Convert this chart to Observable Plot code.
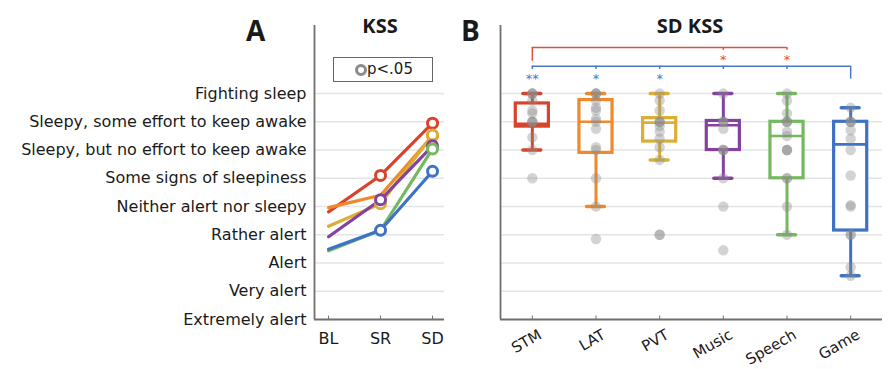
<!DOCTYPE html>
<html>
<head>
<meta charset="utf-8">
<script src="https://cdn.jsdelivr.net/npm/d3@7"></script>
<script src="https://cdn.jsdelivr.net/npm/@observablehq/plot@0.6"></script>
<style>
  html, body { margin: 0; padding: 0; background: #fff; }
  #wrap { position: relative; width: 888px; height: 369px; overflow: hidden; font-family: "DejaVu Sans", sans-serif; color: #1a1a1a; }
  .abs { position: absolute; }
  .letter { font-family: "Open Sans", sans-serif; font-weight: 700; font-size: 28px; line-height: 1; }
  .title { font-family: "Open Sans", sans-serif; font-weight: 700; font-size: 20px; line-height: 1; transform: translateX(-50%); white-space: nowrap; }
  #legend { left: 333px; top: 57px; width: 98px; height: 23px; border: 1.6px solid #666; }
  #legend .ring { position: absolute; left: 21px; top: 6px; width: 6px; height: 6px; border: 3px solid #8a8a8a; border-radius: 50%; }
  #legend .lab { position: absolute; left: 33px; top: 1px; font-size: 15px; line-height: 20px; }
</style>
</head>
<body>
<div id="wrap">
  <div id="panelA" class="abs" style="left:0;top:0"></div>
  <div id="panelB" class="abs" style="left:450px;top:0"></div>
  <div class="abs letter" style="left:246px;top:16px">A</div>
  <div class="abs title" style="left:380px;top:16px">KSS</div>
  <div class="abs letter" style="left:461px;top:16px">B</div>
  <div class="abs title" style="left:690px;top:16px">SD KSS</div>
  <div id="legend" class="abs"><span class="ring"></span><span class="lab">p&lt;.05</span></div>
</div>
<script>
// ---------- data ----------
const levels = ["Extremely alert", "Very alert", "Alert", "Rather alert", "Neither alert nor sleepy",
  "Some signs of sleepiness", "Sleepy, but no effort to keep awake", "Sleepy, some effort to keep awake", "Fighting sleep"];
const sessions = ["BL", "SR", "SD"];
const tasks = ["STM", "LAT", "PVT", "Music", "Speech", "Game"];
const colors = ["#d9432b", "#ef892b", "#dcae34", "#8442a0", "#74b95e", "#3f72c6"];

// Panel A: mean KSS per task and session
const kssBL = [4.81, 4.96, 4.30, 3.93, 3.43, 3.49];
const kssSR = [6.10, 5.40, 5.10, 5.24, 4.16, 4.16];
const kssSD = [7.95, 7.50, 7.53, 7.15, 7.04, 6.25];
const sigSR = [true, false, true, true, false, true];
const sigSD = [true, true, true, true, true, true];

// Panel B: box statistics of SD KSS per task
const whiskLo = [7.0, 5.0, 6.65, 6.0, 4.0, 2.55];
const q1 = [7.83, 6.9, 7.3, 7.0, 6.0, 4.15];
const median = [7.93, 8.0, 7.97, 7.88, 7.5, 7.2];
const q3 = [8.65, 8.77, 8.13, 8.03, 8.0, 8.0];
const whiskHi = [9.0, 9.0, 9.0, 9.0, 9.0, 8.5];
// individual SD KSS scores
const ptsSTM = [9, 9, 9, 8.75, 8.4, 8.3, 8, 8, 8, 7.45, 7, 6];
const ptsLAT = [9, 9, 9, 8.75, 8.5, 8.4, 8.1, 8, 7.75, 7.1, 7, 6, 5, 3.85];
const ptsPVT = [9, 8.75, 8.4, 8, 8, 8, 7.85, 7.65, 7.4, 7.1, 6.65, 4, 4];
const ptsMusic = [9, 8, 8, 8, 7.75, 7, 7, 7, 6, 5, 3.45];
const ptsSpeech = [9, 8.75, 8.3, 8, 8, 8, 7.65, 7.5, 7, 7, 7, 6, 6, 5, 4];
const ptsGame = [8.5, 8, 8, 8, 7.7, 7.4, 7, 6.1, 5.05, 5, 4, 4, 2.85, 2.55];

// significance brackets
const redFrom = "STM", redTo = ["Music", "Speech"], redStars = ["*", "*"];
const blueFrom = "Game", blueTo = ["STM", "LAT", "PVT", "Music", "Speech"], blueStars = ["**", "*", "*", "", ""];

// ---------- tables ----------
const kssBySession = [kssBL, kssSR, kssSD];
const sigBySession = [null, sigSR, sigSD];
const lineRows = [];
tasks.forEach((t, ti) => sessions.forEach((s, si) => lineRows.push({task: t, s: si, k: kssBySession[si][ti]})));
const ringRows = [];
tasks.forEach((t, ti) => [1, 2].forEach(si => { if (sigBySession[si][ti]) ringRows.push({task: t, s: si, k: kssBySession[si][ti]}); }));

const boxRows = tasks.map((t, i) => ({task: t, i, lo: whiskLo[i], q1: q1[i], med: median[i], q3: q3[i], hi: whiskHi[i]}));
const ptsAll = [ptsSTM, ptsLAT, ptsPVT, ptsMusic, ptsSpeech, ptsGame];
const pointRows = [];
ptsAll.forEach((arr, i) => arr.forEach(k => pointRows.push({i, k})));

const color = {domain: tasks, range: colors};
const grid = d3.range(2, 10);
const axisGrey = "#6f6f6f";
const gridGrey = "#e4e4e4";
const yTop = 11.41;
const baseStyle = {fontFamily: "DejaVu Sans", fontSize: "16px", color: "#1a1a1a", background: "transparent", overflow: "visible"};

// ---------- Panel A ----------
const A = Plot.plot({
  width: 450, height: 369,
  marginLeft: 314, marginRight: 6, marginTop: 25, marginBottom: 50,
  style: baseStyle,
  x: {domain: [-0.27, 2.23], label: null, axis: null},
  y: {domain: [1, yTop], label: null, axis: null},
  color,
  marks: [
    Plot.ruleY(grid, {stroke: gridGrey, strokeWidth: 1.5}),
    Plot.ruleY([1], {stroke: axisGrey, strokeWidth: 1.8}),
    Plot.ruleX([-0.27], {y1: 1, y2: yTop, stroke: axisGrey, strokeWidth: 1.8}),
    Plot.ruleX([0, 1, 2], {y1: 1, y2: 1.12, stroke: axisGrey, strokeWidth: 1}),
    Plot.axisY({ticks: d3.range(1, 10), tickFormat: d => levels[d - 1], tickSize: 0, tickPadding: 8, fontSize: 16, label: null}),
    Plot.axisX({ticks: [0, 1, 2], tickFormat: d => sessions[d], tickSize: 0, tickPadding: 13, fontSize: 16, label: null}),
    Plot.line(lineRows, {x: "s", y: "k", z: "task", stroke: "task", strokeWidth: 3.2}),
    Plot.dot(ringRows, {x: "s", y: "k", stroke: "task", fill: "white", r: 5, strokeWidth: 3})
  ]
});
document.getElementById("panelA").appendChild(A);

// ---------- Panel B ----------
const hw = 0.26, cw = 0.14;
const idx = t => tasks.indexOf(t);
const redRows = redTo.map((t, j) => ({i: idx(t), star: redStars[j]}));
const blueRows = blueTo.map((t, j) => ({i: idx(t), star: blueStars[j]}));
const red = "#e0503c", blue = "#4a78c8";
const yRed = 10.63, yBlue = 9.97;

const B = Plot.plot({
  width: 438, height: 369,
  marginLeft: 50, marginRight: 6, marginTop: 25, marginBottom: 50,
  style: baseStyle,
  x: {domain: [-0.5, 5.5], label: null, axis: null},
  y: {domain: [1, yTop], label: null, axis: null},
  color,
  marks: [
    Plot.ruleY(grid, {stroke: gridGrey, strokeWidth: 1.5}),
    Plot.ruleY([1], {stroke: axisGrey, strokeWidth: 1.8}),
    Plot.ruleX([-0.5], {y1: 1, y2: yTop, stroke: axisGrey, strokeWidth: 1.8}),
    Plot.ruleX(d3.range(tasks.length), {y1: 1, y2: 1.12, stroke: axisGrey, strokeWidth: 1}),
    Plot.axisX({ticks: d3.range(tasks.length), tickFormat: d => tasks[d], tickSize: 0, tickPadding: 14, tickRotate: -30, dx: 8, fontSize: 15, label: null}),
    // whiskers
    Plot.ruleX(boxRows, {x: "i", y1: "q3", y2: "hi", stroke: "task", strokeWidth: 3}),
    Plot.ruleX(boxRows, {x: "i", y1: "lo", y2: "q1", stroke: "task", strokeWidth: 3}),
    Plot.ruleY(boxRows, {y: "hi", x1: d => d.i - cw, x2: d => d.i + cw, stroke: "task", strokeWidth: 3.5, strokeLinecap: "round"}),
    Plot.ruleY(boxRows, {y: "lo", x1: d => d.i - cw, x2: d => d.i + cw, stroke: "task", strokeWidth: 3.5, strokeLinecap: "round"}),
    // boxes
    Plot.rect(boxRows, {x1: d => d.i - hw, x2: d => d.i + hw, y1: "q1", y2: "q3", stroke: "task", fill: "white", strokeWidth: 3.2}),
    Plot.ruleY(boxRows, {y: "med", x1: d => d.i - hw, x2: d => d.i + hw, stroke: "task", strokeWidth: 2.6}),
    // individual points
    Plot.dot(pointRows, {x: "i", y: "k", r: 5.2, fill: "#8c8c8c", fillOpacity: 0.38}),
    // red bracket
    Plot.ruleY([yRed], {x1: idx(redFrom), x2: d3.max(redRows, d => d.i), stroke: red, strokeWidth: 1.5}),
    Plot.ruleX([idx(redFrom)], {y1: yRed, y2: 10.14, stroke: red, strokeWidth: 1.5}),
    Plot.ruleX(redRows, {x: "i", y1: yRed, y2: 10.53, stroke: red, strokeWidth: 1.5}),
    Plot.text(redRows, {x: "i", y: 10.30, text: "star", fill: red, fontSize: 13, dy: 3}),
    // blue bracket
    Plot.ruleY([yBlue], {x1: d3.min(blueRows, d => d.i), x2: idx(blueFrom), stroke: blue, strokeWidth: 1.5}),
    Plot.ruleX([idx(blueFrom)], {y1: yBlue, y2: 9.51, stroke: blue, strokeWidth: 1.5}),
    Plot.ruleX(blueRows, {x: "i", y1: yBlue, y2: 9.85, stroke: blue, strokeWidth: 1.5}),
    Plot.text(blueRows, {x: "i", y: 9.62, text: "star", fill: blue, fontSize: 13, dy: 3})
  ]
});
document.getElementById("panelB").appendChild(B);
</script>
</body>
</html>
